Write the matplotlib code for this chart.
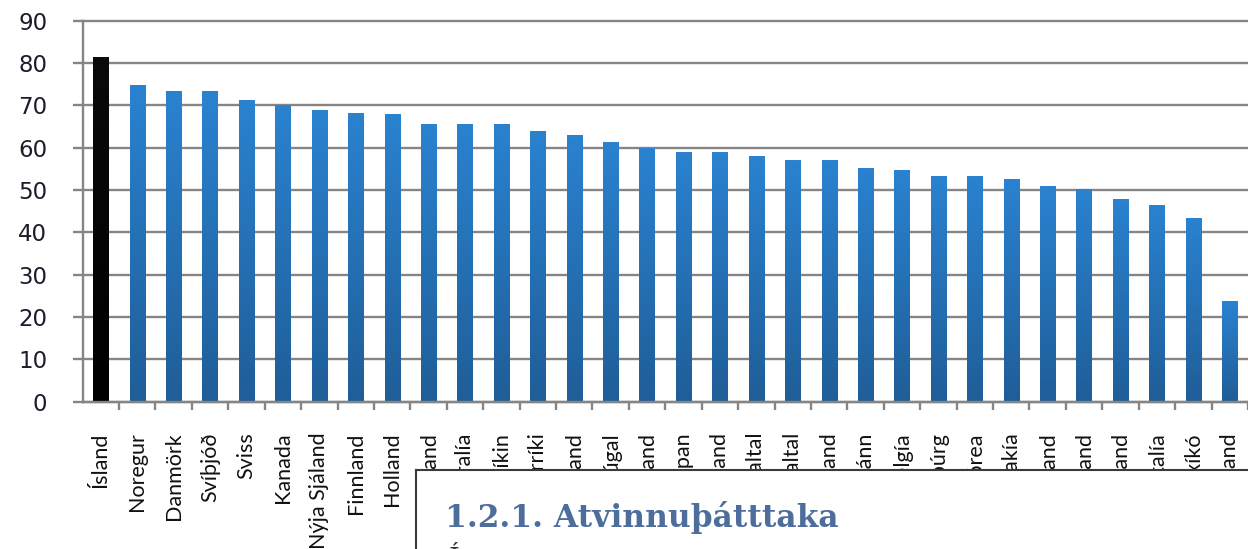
import numpy as np
import matplotlib
matplotlib.use("Agg")
import matplotlib.pyplot as plt
from matplotlib.colors import LinearSegmentedColormap

countries = ["Ísland", "Noregur", "Danmörk", "Svíþjóð", "Sviss", "Kanada",
             "Nýja Sjáland", "Finnland", "Holland", "Bretland", "Ástralía",
             "Bandaríkin", "Austurríki", "Írland", "Portúgal", "Þýskaland",
             "Japan", "Tékkland", "OECD meðaltal", "ESB meðaltal", "Grikkland",
             "Spánn", "Belgía", "Lúxembúrg", "Kórea", "Slóvakía", "Frakkland",
             "Pólland", "Ungverjaland", "Ítalía", "Mexíkó", "Tyrkland"]
values = [81.5, 74.7, 73.4, 73.4, 71.3, 70.0, 68.8, 68.3, 67.9, 65.7, 65.7,
          65.7, 63.9, 62.9, 61.3, 59.9, 59.0, 59.0, 58.0, 57.0, 57.1, 55.3,
          54.7, 53.3, 53.3, 52.7, 50.9, 50.3, 47.8, 46.4, 43.5, 23.8]
yticks = [0, 10, 20, 30, 40, 50, 60, 70, 80, 90]
heading = "1.2.1. Atvinnuþátttaka"

plt.rcParams['font.family'] = ['Lato', 'DejaVu Sans']

W, H = 1248, 549
fig = plt.figure(figsize=(W / 100, H / 100), dpi=100)
fig.patch.set_facecolor("white")

step = 36.73
left_px = 82.6
ax = fig.add_axes([left_px / W, 1 - 401.7 / H, (W - left_px) / W, (401.7 - 20.7) / H])
x = np.arange(len(countries))
bars = ax.bar(x, values, width=0.42, color="#2a78c2", zorder=2, linewidth=0)

blue_cmap = LinearSegmentedColormap.from_list("b", ["#1f5e98", "#2a82d0"])
black_cmap = LinearSegmentedColormap.from_list("k", ["#000000", "#0a0a0a"])
grad = np.linspace(0, 1, 64).reshape(-1, 1)
for i, b in enumerate(bars):
    x0, w, h = b.get_x(), b.get_width(), b.get_height()
    cm = black_cmap if i == 0 else blue_cmap
    im = ax.imshow(grad, extent=[x0, x0 + w, 0, h], origin="lower",
                   aspect="auto", cmap=cm, zorder=2.5,
                   interpolation="bilinear", interpolation_stage="rgba")
    im.set_clip_path(b)

ax.set_xlim(-0.5, (W - left_px) / step - 0.5)
ax.set_ylim(0, 90)
ax.set_yticks(yticks)
ax.set_yticklabels([str(v) for v in yticks], family="DejaVu Sans",
                   fontsize=16.5, color="#1c1c2a")
ax.set_axisbelow(True)
grid_c = "#858585"
ax.yaxis.grid(True, color=grid_c, linewidth=1.7, clip_on=False)
for s in ["top", "right"]:
    ax.spines[s].set_visible(False)
for s in ["left", "bottom"]:
    ax.spines[s].set_color(grid_c)
    ax.spines[s].set_linewidth(1.7)

ax.tick_params(axis="y", direction="out", length=7.5, width=1.7, color=grid_c,
               pad=18)
ax.set_xticks(x)
ax.set_xticklabels(countries, rotation=90, ha="center", va="top",
                   fontsize=15.5, color="#111111")
ax.tick_params(axis="x", which="major", length=0, pad=22)
ax.set_xticks(np.arange(len(countries)) + 0.5, minor=True)
ax.tick_params(axis="x", which="minor", direction="out", length=6, width=1.7,
               color=grid_c)

# overlapping document text box
box_l = 416 / W
box_t = 1 - 470 / H
bax = fig.add_axes([box_l, 0, 1 - box_l + 0.01, box_t])
bax.set_facecolor("white")
bax.set_xticks([])
bax.set_yticks([])
for s in ["right", "bottom"]:
    bax.spines[s].set_visible(False)
for s in ["left", "top"]:
    bax.spines[s].set_color("#3a3a3a")
    bax.spines[s].set_linewidth(1.5)
bax.text(445 / W, 1 - 527 / H, heading, transform=fig.transFigure,
         fontsize=22.5, fontweight="bold", family="DejaVu Serif",
         color="#4d6d9c", va="baseline", ha="left")
bax.text(448 / W, 1 - 568 / H, "Í", transform=fig.transFigure,
         fontsize=20, family="DejaVu Serif", color="#333333",
         va="baseline", ha="left", clip_on=False)

fig.savefig("out.png", dpi=100, facecolor="white")
